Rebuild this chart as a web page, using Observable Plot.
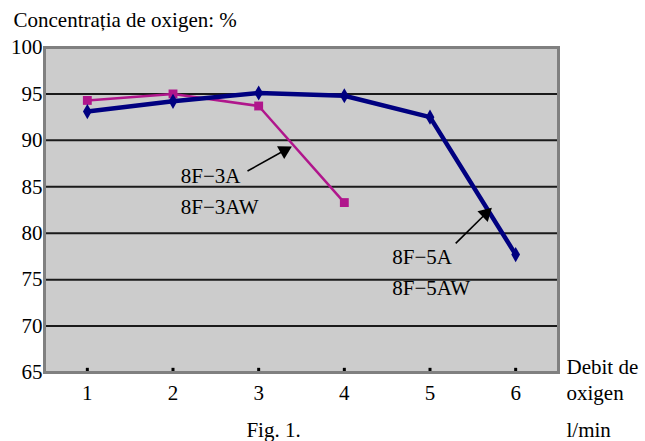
<!DOCTYPE html>
<html>
<head>
<meta charset="utf-8">
<script src="https://cdn.jsdelivr.net/npm/d3@7"></script>
<script src="https://cdn.jsdelivr.net/npm/@observablehq/plot@0.6"></script>
<style>
  html, body { margin: 0; padding: 0; background: white; }
  #chart svg, #chart svg text { font-family: "Times New Roman", "Liberation Serif", Tinos, serif !important; }
</style>
</head>
<body>
<div id="chart"></div>
<script>
// Data
const flow = [1, 2, 3, 4, 5, 6];
const series5A = [93.1, 94.2, 95.1, 94.8, 92.5, 77.7];   // 8F-5A / 8F-5AW (navy)
const flow3A = [1, 2, 3, 4];
const series3A = [94.3, 95.0, 93.7, 83.3];                // 8F-3A / 8F-3AW (magenta)
const yTicks = [65, 70, 75, 80, 85, 90, 95, 100];
const gridValues = [70, 75, 80, 85, 90, 95];
const labelNames = ["8F\u22123A", "8F\u22123AW", "8F\u22125A", "8F\u22125AW"];
const labelX = [2.09, 2.09, 4.56, 4.56];
const labelY = [86.1, 82.8, 77.4, 74.1];
const arrowX1 = [2.87, 5.30];
const arrowY1 = [86.7, 78.9];
const arrowX2 = [3.30, 5.65];
const arrowY2 = [88.9, 82.1];
const arrowAngle = [61, 46];

const d5 = flow.map((x, i) => ({x, y: series5A[i]}));
const d3s = flow3A.map((x, i) => ({x, y: series3A[i]}));
const labels = labelNames.map((t, i) => ({t, x: labelX[i], y: labelY[i]}));
const arrows = arrowX1.map((x1, i) => ({x1, y1: arrowY1[i], x2: arrowX2[i], y2: arrowY2[i], a: arrowAngle[i]}));

const navy = "#000080";
const magenta = "#b0168c";

const chart = Plot.plot({
  width: 645,
  height: 441,
  marginLeft: 44,
  marginRight: 87,
  marginTop: 47,
  marginBottom: 69,
  x: {domain: [0.5, 6.5], label: null},
  y: {domain: [65, 100], label: null},
  style: {fontFamily: "'Times New Roman', 'Liberation Serif', serif", fontSize: "21px", background: "white", color: "black"},
  marks: [
    Plot.frame({fill: "#cccccc"}),
    Plot.ruleY(gridValues, {stroke: "#1a1a1a", strokeWidth: 2}),
    Plot.ruleX(flow, {y1: 65, y2: 65.45, stroke: "black", strokeWidth: 3}),
    Plot.frame({stroke: "#808080", strokeWidth: 3}),
    Plot.axisY({ticks: yTicks, tickSize: 0, tickPadding: 2, tickFormat: "d"}),
    Plot.axisX({ticks: flow, tickSize: 0, tickPadding: 13, tickFormat: "d"}),
    Plot.line(d3s, {x: "x", y: "y", stroke: magenta, strokeWidth: 2.5}),
    Plot.dot(d3s, {x: "x", y: "y", symbol: "square", r: 5, fill: magenta}),
    Plot.line(d5, {x: "x", y: "y", stroke: navy, strokeWidth: 4.5}),
    Plot.dot(d5, {x: "x", y: "y", symbol: "diamond", r: 4.6, fill: navy}),
    Plot.text(labels, {x: "x", y: "y", text: "t", textAnchor: "start", fill: "black"}),
    Plot.link(arrows, {x1: "x1", y1: "y1", x2: "x2", y2: "y2", stroke: "black", strokeWidth: 1.6}),
    Plot.dot(arrows, {x: "x2", y: "y2", symbol: "triangle", r: 5.5, fill: "black", rotate: "a"}),
    Plot.text(["Concentrația de oxigen: %"], {frameAnchor: "top-left", dx: -31, dy: -27, textAnchor: "start", lineAnchor: "middle"}),
    Plot.text(["Debit de"], {frameAnchor: "bottom-right", dx: 8, dy: -5, textAnchor: "start", lineAnchor: "middle"}),
    Plot.text(["oxigen"], {frameAnchor: "bottom-right", dx: 8, dy: 21, textAnchor: "start", lineAnchor: "middle"}),
    Plot.text(["l/min"], {frameAnchor: "bottom-right", dx: 8, dy: 58, textAnchor: "start", lineAnchor: "middle"}),
    Plot.text(["Fig. 1."], {frameAnchor: "bottom", dx: -28, dy: 58, lineAnchor: "middle"})
  ]
});
document.getElementById("chart").appendChild(chart);
</script>
</body>
</html>
